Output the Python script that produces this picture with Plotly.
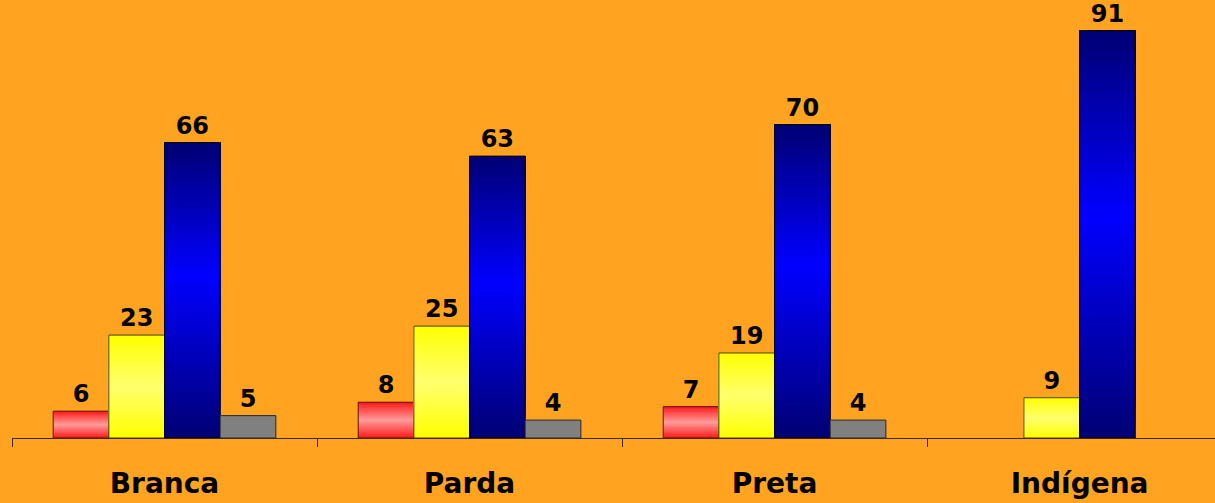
import plotly.graph_objects as go

# ---- data ----
categories = ["Branca", "Parda", "Preta", "Indígena"]
series_names = ["Série 1", "Série 2", "Série 3", "Série 4"]
s1_values = [6, 8, 7, None]
s2_values = [23, 25, 19, 9]
s3_values = [66, 63, 70, 91]
s4_values = [5, 4, 4, None]

# ---- styles ----
BG = "#FFA321"
FONT = "DejaVu Sans"
N_STRIPS = 40

red_stops = [(0.0, (255, 25, 25)), (0.5, (255, 155, 155)), (1.0, (255, 25, 25))]
yellow_stops = [(0.0, (255, 255, 0)), (0.5, (255, 255, 110)), (1.0, (255, 255, 0))]
blue_stops = [(0.0, (0, 0, 115)), (0.55, (0, 0, 255)), (1.0, (0, 0, 115))]
gray_stops = [(0.0, (128, 128, 128)), (1.0, (128, 128, 128))]

series = [
    (series_names[0], s1_values, red_stops, "#5a1a10"),
    (series_names[1], s2_values, yellow_stops, "#4a4020"),
    (series_names[2], s3_values, blue_stops, "#000000"),
    (series_names[3], s4_values, gray_stops, "#2a2a2a"),
]


def grad_color(stops, t):
    for (t0, c0), (t1, c1) in zip(stops[:-1], stops[1:]):
        if t0 <= t <= t1:
            f = (t - t0) / (t1 - t0) if t1 > t0 else 0
            c = [round(a + (b - a) * f) for a, b in zip(c0, c1)]
            return "rgb(%d,%d,%d)" % tuple(c)
    return "rgb(%d,%d,%d)" % stops[-1][1]


fig = go.Figure()

for gi, (name, vals, stops, line_col) in enumerate(series):
    og = str(gi)
    # overlapping strips: each one runs from its own start up to the bar top,
    # drawn bottom-first so later strips cover the upper part (no seams)
    for k in range(N_STRIPS):
        t = (k + 0.5) / N_STRIPS
        bases = [None if v is None else v * k / N_STRIPS for v in vals]
        heights = [None if v is None else v - v * k / N_STRIPS for v in vals]
        fig.add_trace(go.Bar(
            x=categories, y=heights, base=bases, offsetgroup=og, name=name,
            marker=dict(color=grad_color(stops, t), line=dict(width=0)),
            textposition="none", hoverinfo="skip", showlegend=False,
        ))
    # outline + value label
    fig.add_trace(go.Bar(
        x=categories, y=vals, offsetgroup=og, name=name,
        marker=dict(color="rgba(0,0,0,0)", line=dict(color=line_col, width=1)),
        text=[None if v is None else str(v) for v in vals],
        textposition="outside", constraintext="none", cliponaxis=False,
        textfont=dict(family=FONT, size=24, color="#000000", weight="bold"),
        showlegend=False,
    ))

fig.update_layout(
    width=1215, height=503,
    barmode="group", bargap=0.27, bargroupgap=0,
    paper_bgcolor=BG, plot_bgcolor=BG,
    margin=dict(l=12, r=0, t=0, b=65),
    showlegend=False,
    xaxis=dict(
        type="category", range=[-0.5, 3.444], automargin=False,
        tickson="boundaries", ticks="outside", ticklen=8, tickcolor="#3a2a10",
        showline=True, linecolor="#3a2a10", linewidth=1,
        showgrid=False, zeroline=False,
        tickfont=dict(family=FONT, size=28, color="#000000", weight="bold"),
        ticklabelstandoff=20,
    ),
    yaxis=dict(visible=False, range=[0, 97.9], showgrid=False, zeroline=False,
               automargin=False),
)

fig.write_html(
    "out.html",
    config={"displayModeBar": False},
    post_script="document.body.style.margin='0';document.body.style.background='%s';" % BG,
)
